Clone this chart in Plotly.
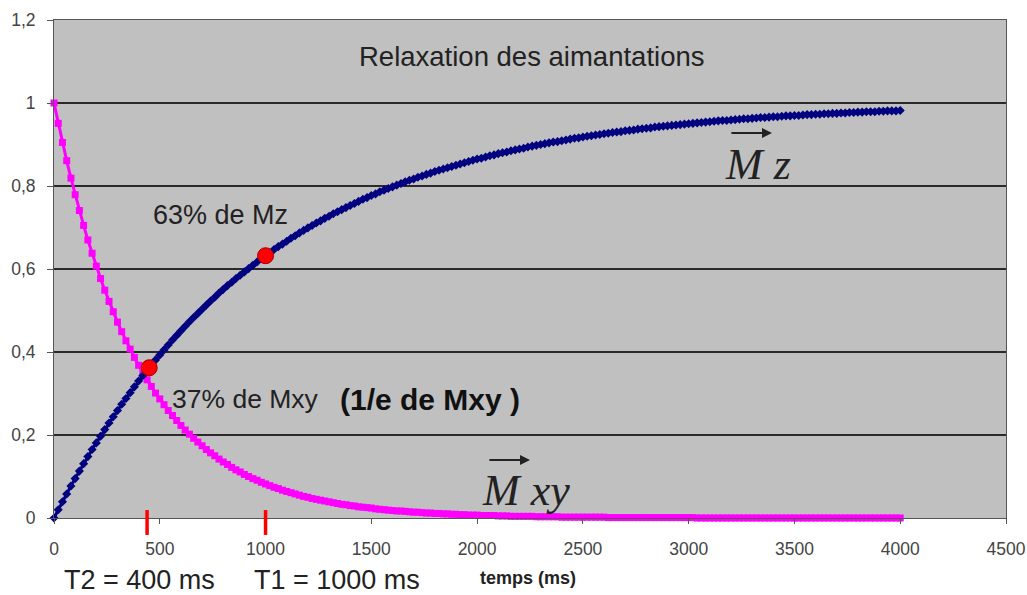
import plotly.graph_objects as go

# sample times (ms)
times = list(range(0, 4001, 20))

# transverse magnetisation Mxy
mxy = [
    1.000, 0.951, 0.905, 0.861, 0.819, 0.779, 0.741, 0.705, 0.670, 0.638, 0.607,
    0.577, 0.549, 0.522, 0.497, 0.472, 0.449, 0.427, 0.407, 0.387, 0.368,
    0.350, 0.333, 0.317, 0.301, 0.287, 0.273, 0.259, 0.247, 0.235, 0.223,
    0.212, 0.202, 0.192, 0.183, 0.174, 0.165, 0.157, 0.150, 0.142, 0.135,
    0.129, 0.122, 0.116, 0.111, 0.105, 0.100, 0.095, 0.091, 0.086, 0.082,
    0.078, 0.074, 0.071, 0.067, 0.064, 0.061, 0.058, 0.055, 0.052, 0.050,
    0.047, 0.045, 0.043, 0.041, 0.039, 0.037, 0.035, 0.033, 0.032, 0.030,
    0.029, 0.027, 0.026, 0.025, 0.024, 0.022, 0.021, 0.020, 0.019, 0.018,
    0.017, 0.017, 0.016, 0.015, 0.014, 0.014, 0.013, 0.012, 0.012, 0.011,
    0.011, 0.010, 0.010, 0.009, 0.009, 0.008, 0.008, 0.007, 0.007, 0.007,
    0.006, 0.006, 0.006, 0.006, 0.005, 0.005, 0.005, 0.004, 0.004, 0.004,
    0.004, 0.004, 0.004, 0.003, 0.003, 0.003, 0.003, 0.003, 0.003, 0.002,
    0.002, 0.002, 0.002, 0.002, 0.002, 0.002, 0.002, 0.002, 0.002, 0.002,
    0.001, 0.001, 0.001, 0.001, 0.001, 0.001, 0.001, 0.001, 0.001, 0.001,
    0.001, 0.001, 0.001, 0.001, 0.001, 0.001, 0.001, 0.001, 0.001, 0.001,
    0.001, 0.000, 0.000, 0.000, 0.000, 0.000, 0.000, 0.000, 0.000, 0.000,
    0.000, 0.000, 0.000, 0.000, 0.000, 0.000, 0.000, 0.000, 0.000, 0.000,
    0.000, 0.000, 0.000, 0.000, 0.000, 0.000, 0.000, 0.000, 0.000, 0.000,
    0.000, 0.000, 0.000, 0.000, 0.000, 0.000, 0.000, 0.000, 0.000, 0.000,
    0.000, 0.000, 0.000, 0.000, 0.000, 0.000, 0.000, 0.000, 0.000, 0.000,
]

# longitudinal magnetisation Mz
mz = [
    0.000, 0.020, 0.039, 0.058, 0.077, 0.095, 0.113, 0.131, 0.148, 0.165, 0.181,
    0.197, 0.213, 0.229, 0.244, 0.259, 0.274, 0.288, 0.302, 0.316, 0.330,
    0.343, 0.356, 0.369, 0.381, 0.393, 0.405, 0.417, 0.429, 0.440, 0.451,
    0.462, 0.473, 0.483, 0.493, 0.503, 0.513, 0.523, 0.532, 0.542, 0.551,
    0.560, 0.568, 0.577, 0.585, 0.593, 0.601, 0.609, 0.617, 0.625, 0.632,
    0.639, 0.647, 0.654, 0.660, 0.667, 0.674, 0.680, 0.687, 0.693, 0.699,
    0.705, 0.711, 0.716, 0.722, 0.727, 0.733, 0.738, 0.743, 0.748, 0.753,
    0.758, 0.763, 0.768, 0.772, 0.777, 0.781, 0.786, 0.790, 0.794, 0.798,
    0.802, 0.806, 0.810, 0.814, 0.817, 0.821, 0.824, 0.828, 0.831, 0.835,
    0.838, 0.841, 0.844, 0.847, 0.850, 0.853, 0.856, 0.859, 0.862, 0.865,
    0.867, 0.870, 0.873, 0.875, 0.878, 0.880, 0.882, 0.885, 0.887, 0.889,
    0.891, 0.894, 0.896, 0.898, 0.900, 0.902, 0.904, 0.906, 0.907, 0.909,
    0.911, 0.913, 0.915, 0.916, 0.918, 0.920, 0.921, 0.923, 0.924, 0.926,
    0.927, 0.929, 0.930, 0.931, 0.933, 0.934, 0.935, 0.937, 0.938, 0.939,
    0.940, 0.942, 0.943, 0.944, 0.945, 0.946, 0.947, 0.948, 0.949, 0.950,
    0.951, 0.952, 0.953, 0.954, 0.955, 0.956, 0.957, 0.958, 0.958, 0.959,
    0.960, 0.961, 0.962, 0.962, 0.963, 0.964, 0.965, 0.965, 0.966, 0.967,
    0.967, 0.968, 0.969, 0.969, 0.970, 0.970, 0.971, 0.972, 0.972, 0.973,
    0.973, 0.974, 0.974, 0.975, 0.975, 0.976, 0.976, 0.977, 0.977, 0.978,
    0.978, 0.979, 0.979, 0.979, 0.980, 0.980, 0.981, 0.981, 0.981, 0.982,
]

# highlighted points
dot_t = [450, 1000]
dot_v = [0.362, 0.632]

# red marks on the time axis (T2, T1)
mark_t = [440, 1000]

x_ticks = [0, 500, 1000, 1500, 2000, 2500, 3000, 3500, 4000, 4500]
y_ticks = [0, 0.2, 0.4, 0.6, 0.8, 1.0, 1.2]

SANS = "Liberation Sans, Arial, sans-serif"
SERIF = "Liberation Serif, Times New Roman, serif"

fig = go.Figure()

fig.add_trace(go.Scatter(
    x=times, y=mxy, mode="lines+markers", cliponaxis=False,
    line=dict(color="#ff00ff", width=3),
    marker=dict(symbol="square", size=7, color="#ff00ff"),
    showlegend=False, hoverinfo="skip"))

fig.add_trace(go.Scatter(
    x=times, y=mz, mode="lines+markers", cliponaxis=False,
    line=dict(color="#000080", width=3),
    marker=dict(symbol="diamond", size=7, color="#000080"),
    showlegend=False, hoverinfo="skip"))

fig.add_trace(go.Scatter(
    x=dot_t, y=dot_v, mode="markers", cliponaxis=False,
    marker=dict(symbol="circle", size=16, color="#ff0000",
                line=dict(color="#a00000", width=1)),
    showlegend=False, hoverinfo="skip"))

for t in mark_t:
    fig.add_shape(type="line", xref="x", yref="paper",
                  x0=t, x1=t, y0=-0.034, y1=0.016,
                  line=dict(color="#ff0000", width=3.5))

ann = []
def txt(x, y, s, size, xref="x", yref="y", family=SANS, color="#222222"):
    ann.append(dict(x=x, y=y, xref=xref, yref=yref, text=s, showarrow=False,
                    xanchor="center", yanchor="middle",
                    font=dict(family=family, size=size, color=color)))

txt(2255, 1.111, "Relaxation des aimantations", 27.5)
txt(789, 0.730, "63% de Mz", 27)
txt(903, 0.286, "37% de Mxy", 26.5)
txt(1777, 0.286, "<b>(1/e de Mxy )</b>", 30, color="#111111")
txt(3328, 0.852, "<i>M z</i>", 44, family=SERIF)
txt(2231, 0.066, "<i>M xy</i>", 44, family=SERIF)
txt(402, -0.125, "T2 = 400 ms", 27, yref="paper")
txt(1338, -0.125, "T1 = 1000 ms", 27, yref="paper")
txt(2240, -0.121, "<b>temps (ms)</b>", 18, yref="paper")

# vector arrows over M
for (t0, t1, v) in [(3195, 3394, 0.928), (2051, 2250, 0.140)]:
    ann.append(dict(x=t1, y=v, ax=t0, ay=v, xref="x", yref="y",
                    axref="x", ayref="y", text="", showarrow=True,
                    arrowhead=2, arrowsize=1, arrowwidth=2,
                    arrowcolor="#222222"))

fig.update_layout(
    width=1027, height=595,
    margin=dict(l=54, r=21, t=20, b=77, autoexpand=False),
    paper_bgcolor="white", plot_bgcolor="#c0c0c0",
    separators=", ",
    annotations=ann,
    xaxis=dict(range=[0, 4500], tickvals=x_ticks, showgrid=False,
               automargin=False,
               zeroline=False, showline=True, linecolor="#555555",
               linewidth=1, mirror=True,
               ticks="outside", ticklen=5, tickcolor="#555555",
               ticklabelstandoff=10,
               tickfont=dict(family=SANS, size=17.5, color="#444444")),
    yaxis=dict(range=[0, 1.2], tickvals=y_ticks, showgrid=True,
               automargin=False,
               gridcolor="#2a2a2a", gridwidth=1.2,
               zeroline=False, showline=True, linecolor="#555555",
               linewidth=1, mirror=True,
               ticks="outside", ticklen=6, tickcolor="#555555",
               ticklabelstandoff=8,
               tickfont=dict(family=SANS, size=17.5, color="#444444")),
)

# remove the default page margin so the figure fills the window exactly
fig.write_html(
    "out.html",
    config={"displayModeBar": False, "staticPlot": True},
    post_script="document.body.style.margin='0px';document.body.style.overflow='hidden';",
)
